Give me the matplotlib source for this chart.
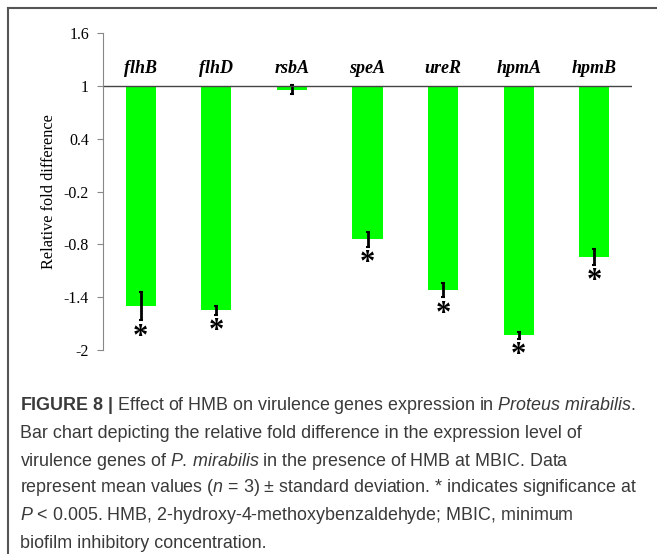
import matplotlib.pyplot as plt
from matplotlib.lines import Line2D

genes = ['flhB', 'flhD', 'rsbA', 'speA', 'ureR', 'hpmA', 'hpmB']
fold_diff = [-1.50, -1.55, 0.955, -0.74, -1.32, -1.83, -0.94]
std_dev = [0.16, 0.05, 0.05, 0.085, 0.08, 0.04, 0.09]
significant = [True, True, False, True, True, True, True]
yticks = [1.6, 1, 0.4, -0.2, -0.8, -1.4, -2]
ytick_labels = ['1.6', '1', '0.4', '-0.2', '-0.8', '-1.4', '-2']
baseline = 1

caption = [
    r'$\mathbf{FIGURE\ 8\ |}$ Effect of HMB on virulence genes expression in $\mathit{Proteus}$ $\mathit{mirabilis}$.',
    'Bar chart depicting the relative fold difference in the expression level of',
    r'virulence genes of $\mathit{P.\,mirabilis}$ in the presence of HMB at MBIC. Data',
    r'represent mean values ($\mathit{n}$ = 3) $\pm$ standard deviation. * indicates significance at',
    r'$\mathit{P}$ < 0.005. HMB, 2-hydroxy-4-methoxybenzaldehyde; MBIC, minimum',
    'biofilm inhibitory concentration.',
]

plt.rcParams['mathtext.fontset'] = 'custom'
plt.rcParams['mathtext.rm'] = 'Liberation Sans'
plt.rcParams['mathtext.it'] = 'Liberation Sans:italic'
plt.rcParams['mathtext.bf'] = 'Liberation Sans:bold'

W, H = 657, 554
fig = plt.figure(figsize=(W / 100, H / 100), dpi=100)
ax = fig.add_axes([103 / W, 1 - 350 / H, 529 / W, 317 / H])

x = list(range(len(genes)))
ax.bar(x, [v - baseline for v in fold_diff], bottom=baseline, width=0.4, color='#00ff00')
ax.errorbar(x, fold_diff, yerr=std_dev, fmt='none', ecolor='black',
            elinewidth=2, capsize=1.5, capthick=1.5)
ax.axhline(baseline, color='#444444', lw=1)

for i, g in enumerate(genes):
    ax.text(i, 1.2, g, ha='center', va='center', family='Liberation Serif',
            style='italic', weight='bold', fontsize=13)
    if significant[i]:
        ax.text(i, fold_diff[i] - std_dev[i] - 0.03, '*', ha='center', va='top',
                family='Liberation Serif', weight='bold', fontsize=22)

ax.set_xlim(-0.5, 6.5)
ax.set_ylim(-2, 1.6)
ax.set_yticks(yticks)
ax.set_yticklabels(ytick_labels, family='Liberation Serif', fontsize=11.5)
ax.set_xticks([])
for s in ['top', 'right', 'bottom']:
    ax.spines[s].set_visible(False)
ax.spines['left'].set_color('#888888')
ax.tick_params(axis='y', length=4, color='#888888', pad=6)
ax.set_ylabel('Relative fold difference', family='Liberation Serif', fontsize=11.7, labelpad=5)

# frame around the figure panel
fig.add_artist(Line2D([8 / W, 8 / W], [0, 1 - 8 / H], color='#555555', lw=1.5))
fig.add_artist(Line2D([8 / W, 1], [1 - 8 / H, 1 - 8 / H], color='#555555', lw=1.5))

ys = [406, 434, 461, 488, 516, 543]
for line, y in zip(caption, ys):
    fig.text(20 / W, 1 - y / H, line, ha='left', va='center',
             family='Liberation Sans', fontsize=12.9, color='#3a3a3a')

fig.savefig('out.png', dpi=100)
